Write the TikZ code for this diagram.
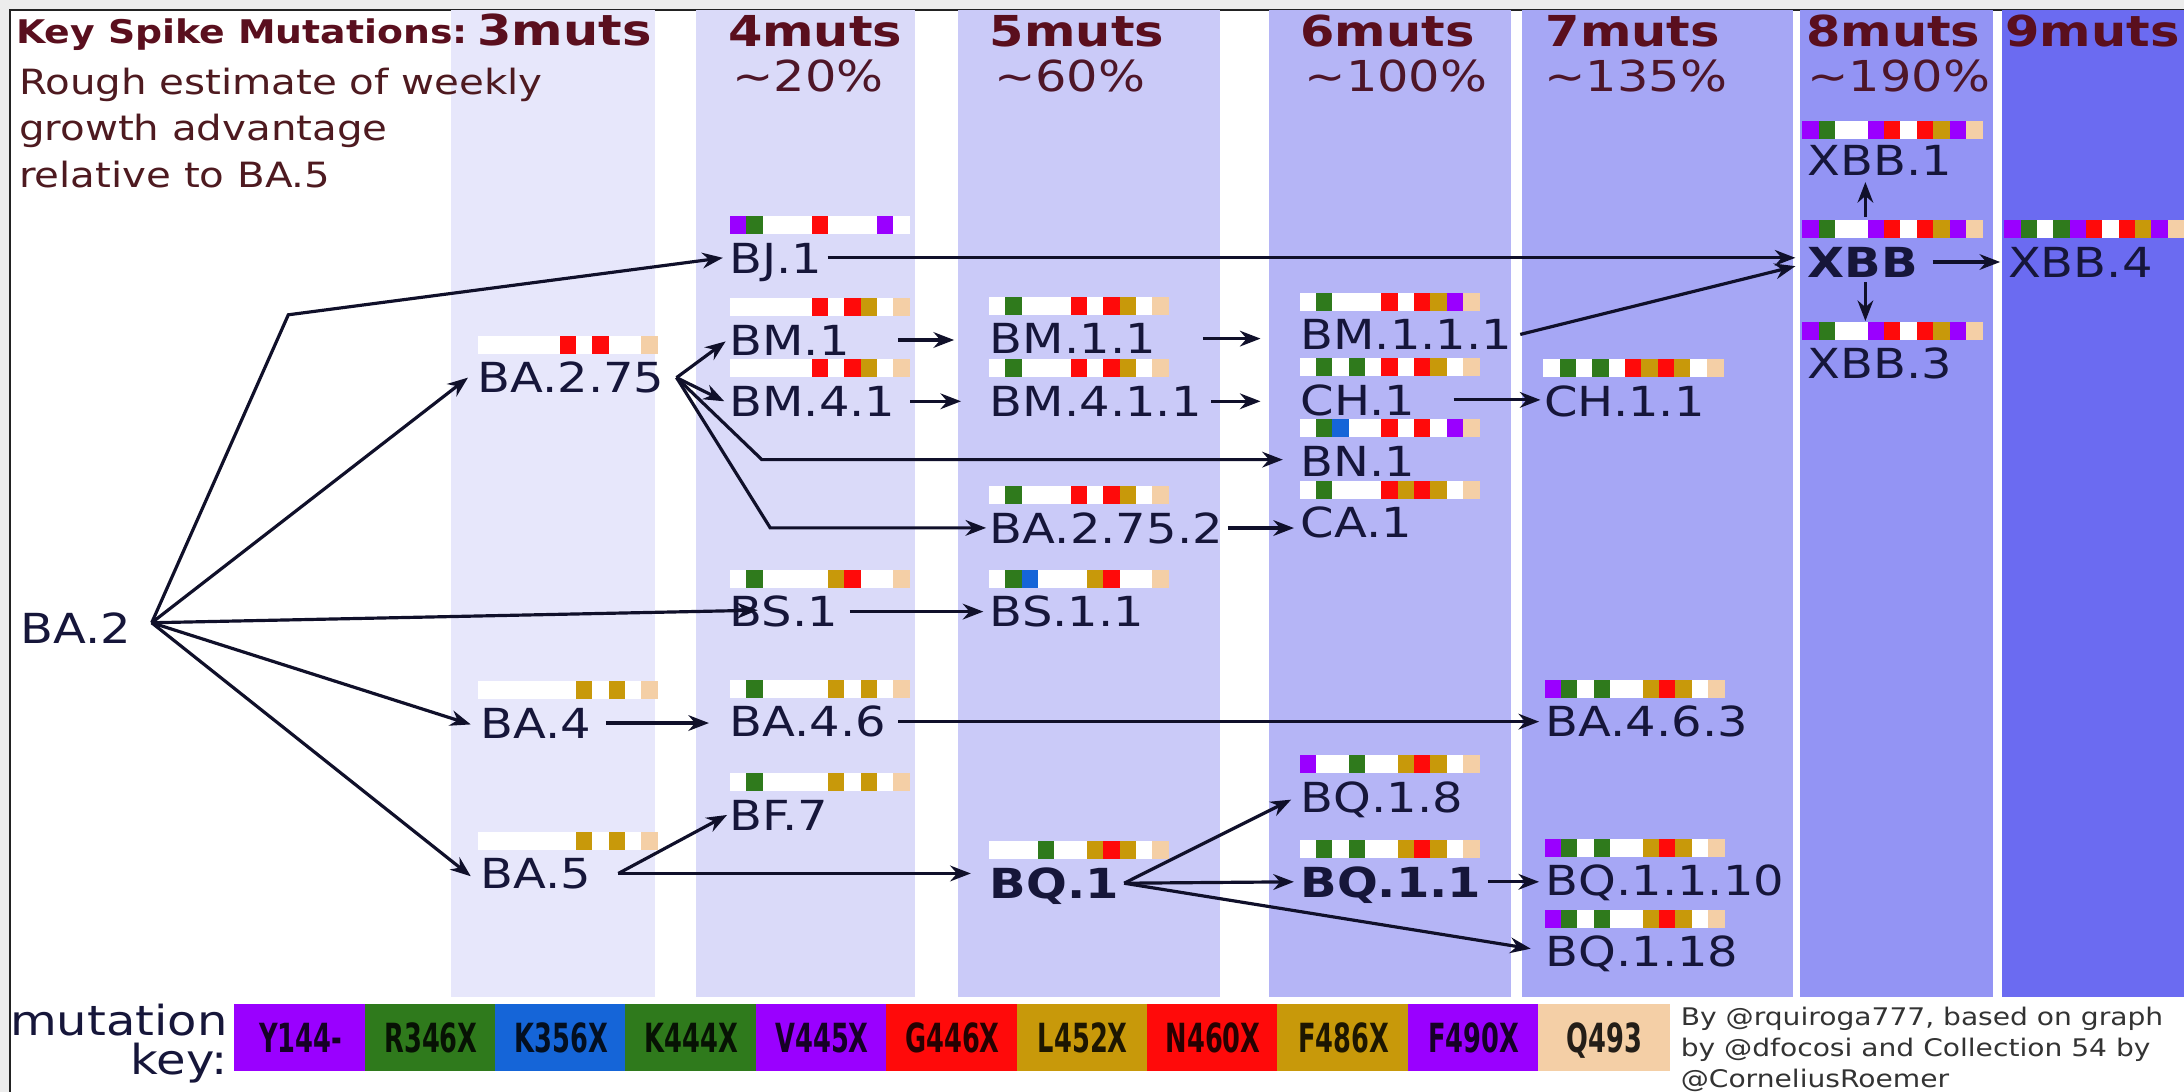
\documentclass[tikz,border=0pt]{standalone}
\usepackage{fontspec}
\usepackage{graphicx}
\setmainfont{DejaVu Sans}[FakeStretch=1.16]
\newfontfamily\keyfont{DejaVu Sans}[FakeStretch=0.64]
\usetikzlibrary{arrows.meta,calc}
\definecolor{gbg}{HTML}{ECECEC}
\definecolor{frc}{HTML}{222222}
\definecolor{hdrc}{HTML}{5A0F1E}
\definecolor{pctc}{HTML}{4E1628}
\definecolor{subc}{HTML}{4E1A20}
\definecolor{lblc}{HTML}{16163A}
\definecolor{arrc}{HTML}{10102A}
\definecolor{credc}{HTML}{333333}
\definecolor{bthree}{HTML}{E7E7FB}
\definecolor{bfour}{HTML}{DADAF9}
\definecolor{bfive}{HTML}{CACAF8}
\definecolor{bsix}{HTML}{B5B5F6}
\definecolor{bseven}{HTML}{A6A7F5}
\definecolor{beight}{HTML}{9394F4}
\definecolor{bnine}{HTML}{6B6BF1}
\definecolor{mp}{HTML}{9A00FF}
\definecolor{mg}{HTML}{2F7A1C}
\definecolor{mb}{HTML}{1565D8}
\definecolor{mr}{HTML}{FF0A0A}
\definecolor{mo}{HTML}{C8990A}
\definecolor{mq}{HTML}{F4CFA6}
\definecolor{mw}{HTML}{FFFFFF}
\newcommand\mbar[3]{\foreach \cc [count=\ii from 0] in {#3} {\fill[m\cc] ({#1+\ii*11.74},{#2}) rectangle ({#1+\ii*11.74+12.0},{#2+13});}}
\tikzset{
 lbl/.style={anchor=base west, inner sep=0pt, text height=6.2pt, text depth=0pt, font=\fontsize{8.45}{10}\selectfont, text=lblc},
 blbl/.style={lbl, font=\fontsize{8.45}{10}\selectfont\bfseries},
 hdr/.style={anchor=base west, inner sep=0pt, font=\fontsize{8.7}{10}\selectfont\bfseries, text=hdrc},
 pct/.style={anchor=base west, inner sep=0pt, font=\fontsize{8.7}{10}\selectfont, text=pctc},
 arr/.style={draw=arrc, line width=0.65pt, -{Stealth[length=4.2pt,width=3.2pt]}},
 keybox/.style={inner sep=0pt, minimum width=0.95cm, minimum height=0.48cm, text height=6pt, text depth=0pt, font=\keyfont\fontsize{8.2}{9}\selectfont\bfseries, text=black, text opacity=0.85},
}
\begin{document}
\begin{tikzpicture}[x=0.01cm,y=-0.01cm]
\useasboundingbox (0,0) rectangle (1568,784);
\fill[gbg] (0,0) rectangle (1568,784);
\filldraw[fill=white,draw=frc,line width=0.5pt] (7,7) rectangle (1600,820);
% bands
\fill[bthree] (324,7.3) rectangle (470,716);
\fill[bfour] (500,7.3) rectangle (657,716);
\fill[bfive] (688,7.3) rectangle (876,716);
\fill[bsix] (911,7.3) rectangle (1085,716);
\fill[bseven] (1093,7.3) rectangle (1287,716);
\fill[beight] (1292,7.3) rectangle (1431,716);
\fill[bnine] (1437,7.3) rectangle (1568,716);
% headers
\node[anchor=base west,inner sep=0pt,font=\fontsize{6.65}{8}\selectfont\bfseries,text=hdrc] (title) at (11,31) {Key Spike Mutations:};
\node[hdr] (h3) at (342,32.5) {3muts};
\node[hdr] (h4) at (522,33.5) {4muts};
\node[hdr] (h5) at (710,33.5) {5muts};
\node[hdr] (h6) at (933,33.5) {6muts};
\node[hdr] (h7) at (1109,33.5) {7muts};
\node[hdr] (h8) at (1296,33.5) {8muts};
\node[hdr] (h9) at (1439,33.5) {9muts};
\node[pct] (p4) at (525,66) {\textasciitilde20\%};
\node[pct] (p5) at (713,66) {\textasciitilde60\%};
\node[pct] (p6) at (936,66) {\textasciitilde100\%};
\node[pct] (p7) at (1108,66) {\textasciitilde135\%};
\node[pct] (p8) at (1297,66) {\textasciitilde190\%};
\node[anchor=north west,inner sep=0pt,align=left,font=\fontsize{7.1}{9.5}\selectfont,text=subc] (sub) at (13,48) {Rough estimate of weekly\\growth advantage\\relative to BA.5};
% bars
\mbar{343}{241}{w,w,w,w,w,r,w,r,w,w,q}
\mbar{343}{489}{w,w,w,w,w,w,o,w,o,w,q}
\mbar{343}{597}{w,w,w,w,w,w,o,w,o,w,q}
\mbar{524}{155}{p,g,w,w,w,r,w,w,w,p,w}
\mbar{524}{214}{w,w,w,w,w,r,w,r,o,w,q}
\mbar{524}{258}{w,w,w,w,w,r,w,r,o,w,q}
\mbar{524}{409}{w,g,w,w,w,w,o,r,w,w,q}
\mbar{524}{488}{w,g,w,w,w,w,o,w,o,w,q}
\mbar{524}{555}{w,g,w,w,w,w,o,w,o,w,q}
\mbar{710}{213}{w,g,w,w,w,r,w,r,o,w,q}
\mbar{710}{258}{w,g,w,w,w,r,w,r,o,w,q}
\mbar{710}{349}{w,g,w,w,w,r,w,r,o,w,q}
\mbar{710}{409}{w,g,b,w,w,w,o,r,w,w,q}
\mbar{710}{604}{w,w,w,g,w,w,o,r,o,w,q}
\mbar{933}{210}{w,g,w,w,w,r,w,r,o,p,q}
\mbar{933}{257}{w,g,w,g,w,r,w,r,o,w,q}
\mbar{933}{301}{w,g,b,w,w,r,w,r,w,p,q}
\mbar{933}{345}{w,g,w,w,w,r,o,r,o,w,q}
\mbar{933}{542}{p,w,w,g,w,w,o,r,o,w,q}
\mbar{933}{603}{w,g,w,g,w,w,o,r,o,w,q}
\mbar{1108}{258}{w,g,w,g,w,r,o,r,o,w,q}
\mbar{1109}{488}{p,g,w,g,w,w,o,r,o,w,q}
\mbar{1109}{602}{p,g,w,g,w,w,o,r,o,w,q}
\mbar{1109}{653}{p,g,w,g,w,w,o,r,o,w,q}
\mbar{1294}{87}{p,g,w,w,p,r,w,r,o,p,q}
\mbar{1294}{158}{p,g,w,w,p,r,w,r,o,p,q}
\mbar{1294}{231}{p,g,w,w,p,r,w,r,o,p,q}
\mbar{1439}{158}{p,g,w,g,p,r,w,r,o,p,q}
% labels
\node[lbl] (BA2) at (14,462) {BA.2};
\node[lbl] (BA275) at (342,282) {BA.2.75};
\node[lbl] (BA4) at (344,530) {BA.4};
\node[lbl] (BA5) at (344,638) {BA.5};
\node[lbl] (BJ1) at (523,196) {BJ.1};
\node[lbl] (BM1) at (523,255) {BM.1};
\node[lbl] (BM41) at (523,299) {BM.4.1};
\node[lbl] (BS1) at (523,450) {BS.1};
\node[lbl] (BA46) at (523,529) {BA.4.6};
\node[lbl] (BF7) at (523,596) {BF.7};
\node[lbl] (BM11) at (710,254) {BM.1.1};
\node[lbl] (BM411) at (710,299) {BM.4.1.1};
\node[lbl] (BA2752) at (710,390) {BA.2.75.2};
\node[lbl] (BS11) at (710,450) {BS.1.1};
\node[blbl] (BQ1) at (710,645) {BQ.1};
\node[lbl] (BM111) at (933,251) {BM.1.1.1};
\node[lbl] (CH1) at (933,298) {CH.1};
\node[lbl] (BN1) at (933,342) {BN.1};
\node[lbl] (CA1) at (933,386) {CA.1};
\node[lbl] (BQ18) at (933,583) {BQ.1.8};
\node[blbl] (BQ11) at (933,644) {BQ.1.1};
\node[lbl] (CH11) at (1108,299) {CH.1.1};
\node[lbl] (BA463) at (1109,529) {BA.4.6.3};
\node[lbl] (BQ1110) at (1109,643) {BQ.1.1.10};
\node[lbl] (BQ118) at (1109,694) {BQ.1.18};
\node[lbl] (XBB1) at (1297,126) {XBB.1};
\node[blbl] (XBB) at (1297,199) {XBB};
\node[lbl] (XBB3) at (1297,272) {XBB.3};
\node[lbl] (XBB4) at (1441,199) {XBB.4};
% connectors
\coordinate (o1) at ($(BA2.east)+(14,-4)$);
\coordinate (kBJ) at (207,226);
\draw[arr] (o1) -- (kBJ) -- ($(BJ1.west)+(-4,0)$);
\draw[arr] (o1) -- ($(BA275.west)+(-6,0)$);
\draw[arr] (o1) -- ($(BS1.west)+(21,-1)$);
\draw[arr] (o1) -- ($(BA4.west)+(-6,1)$);
\draw[arr] (o1) -- ($(BA5.west)+(-6,2)$);
\coordinate (o2) at ($(BA275.east)+(8,0)$);
\draw[arr] (o2) -- ($(BM1.west)+(-2,1)$);
\draw[arr] (o2) -- ($(BM41.west)+(-3,0)$);
\coordinate (kBN) at (547,330);
\draw[arr] (o2) -- (kBN) -- ($(BN1.west |- kBN)+(-12,0)$);
\coordinate (kCA) at (553,379);
\draw[arr] (o2) -- (kCA) -- ($(BA2752.west |- kCA)+(-2,0)$);
\draw[arr] ($(BM1.east)+(34,0)$) -- ($(BM11.west |- BM1.east)+(-25,0)$);
\draw[arr] ($(BM41.east)+(10,0)$) -- ($(BM411.west |- BM41.east)+(-20,0)$);
\draw[arr] ($(BM11.east)+(33,0)$) -- ($(BM111.west |- BM11.east)+(-28,0)$);
\draw[arr] ($(BM411.east)+(6,0)$) -- ($(CH1.west |- BM411.east)+(-28,0)$);
\draw[arr] ($(CH1.east)+(27,0)$) -- ($(CH11.west |- CH1.east)+(-2,0)$);
\draw[arr] ($(BA2752.east)+(3,0)$) -- ($(CA1.west |- BA2752.east)+(-4,0)$);
\draw[arr] ($(BS1.east)+(8,0)$) -- ($(BS11.west |- BS1.east)+(-4,0)$);
\draw[arr] ($(BA4.east)+(10,0)$) -- ($(BA46.west |- BA4.east)+(-14,0)$);
\draw[arr] ($(BA46.east)+(8,0)$) -- ($(BA463.west |- BA46.east)+(-4,0)$);
\coordinate (o4) at ($(BA5.east)+(19,0)$);
\draw[arr] (o4) -- ($(BF7.west)+(-1,0)$);
\draw[arr] (o4) -- ($(BQ1.west |- o4)+(-13,0)$);
\coordinate (o3) at ($(BQ1.east)+(3,0)$);
\draw[arr] (o3) -- ($(BQ18.west)+(-6,2)$);
\draw[arr] (o3) -- ($(BQ11.west)+(-4,0)$);
\draw[arr] (o3) -- ($(BQ118.west)+(-10,-2)$);
\draw[arr] ($(BQ11.east)+(4,0)$) -- ($(BQ1110.west |- BQ11.east)+(-4,0)$);
\draw[arr] ($(BJ1.east)+(3,0)$) -- ($(XBB.west |- BJ1.east)+(-8,0)$);
\draw[arr] ($(BM111.east)+(5,0)$) -- ($(XBB.west)+(-8,3)$);
\draw[arr] ($(XBB.north)+(2,-21)$) -- ($(XBB.north |- XBB1.south)+(2,4)$);
\draw[arr] ($(XBB.south)+(2,3)$) -- ($(XBB.south |- XBB3.north)+(2,-19)$);
\draw[arr] ($(XBB.east)+(10,0)$) -- ($(XBB4.west)+(-5,0)$);
% key
\node[anchor=north east,inner sep=0pt,align=right,font=\fontsize{8.45}{8}\selectfont,text=lblc] (mk) at (164,720) {mutation\\key:};
\foreach \lab/\col [count=\i from 0] in {Y144-/mp,R346X/mg,K356X/mb,K444X/mg,V445X/mp,G446X/mr,L452X/mo,N460X/mr,F486X/mo,F490X/mp,Q493/mq}
  \node[keybox,fill=\col] (key\i) at ({215.8+\i*93.6},745) {\lab};
\node[anchor=north west,inner sep=0pt,align=left,font=\fontsize{4.95}{6.35}\selectfont,text=credc] (cred) at (1206,722) {By @rquiroga777, based on graph\\by @dfocosi and Collection 54 by\\@CorneliusRoemer};
\end{tikzpicture}
\end{document}
